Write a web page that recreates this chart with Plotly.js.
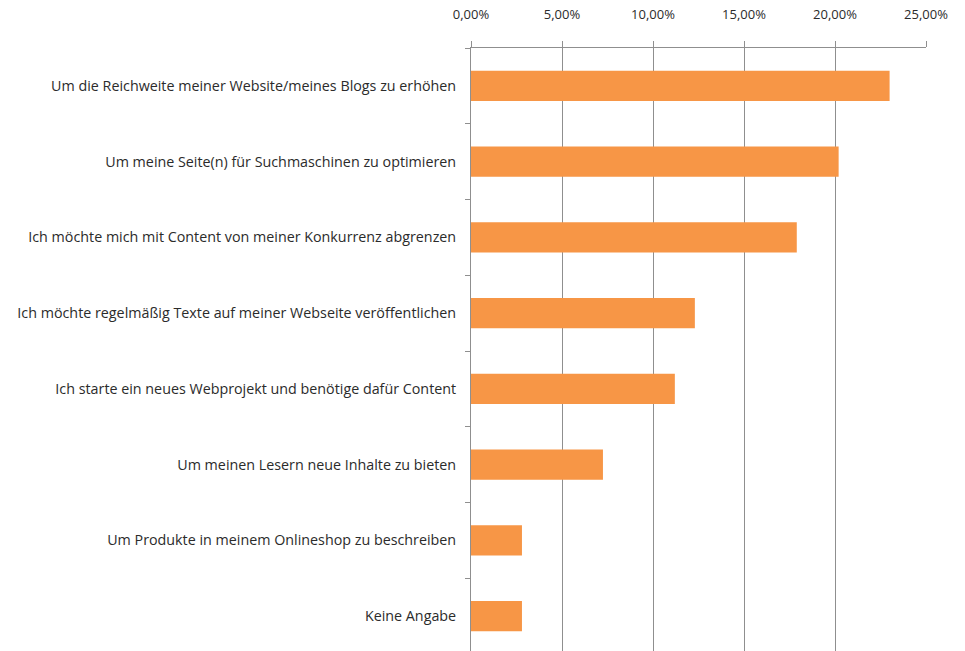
<!DOCTYPE html>
<html>
<head>
<meta charset="utf-8">
<script src="https://cdn.plot.ly/plotly-3.0.1.min.js"></script>
<style>
  html, body { margin: 0; padding: 0; background: #fff; overflow: hidden; }
  #chart { width: 965px; height: 654px; }
</style>
</head>
<body>
<div id="chart"></div>
<script>
// Reasons for ordering content (share of respondents)
const categories = [
  "Um die Reichweite meiner Website/meines Blogs zu erhöhen",
  "Um meine Seite(n) für Suchmaschinen zu optimieren",
  "Ich möchte mich mit Content von meiner Konkurrenz abgrenzen",
  "Ich möchte regelmäßig Texte auf meiner Webseite veröffentlichen",
  "Ich starte ein neues Webprojekt und benötige dafür Content",
  "Um meinen Lesern neue Inhalte zu bieten",
  "Um Produkte in meinem Onlineshop zu beschreiben",
  "Keine Angabe"
];
const shares = [0.230, 0.202, 0.179, 0.123, 0.112, 0.0725, 0.028, 0.028];
const tickValues = [0, 0.05, 0.10, 0.15, 0.20, 0.25];

const trace = {
  type: "bar",
  orientation: "h",
  x: shares,
  y: categories,
  marker: { color: "#F79646" },
  hoverinfo: "x+y"
};

const layout = {
  width: 965,
  height: 654,
  margin: { l: 471, r: 39, t: 48, b: 0 },
  paper_bgcolor: "#ffffff",
  plot_bgcolor: "#ffffff",
  separators: ",.",
  bargap: 0.6,
  showlegend: false,
  font: { family: "Open Sans, sans-serif", size: 12, color: "#2b2b2b" },
  xaxis: {
    side: "top",
    range: [0, 0.25],
    tickvals: tickValues,
    tickformat: ".2%",
    showgrid: true,
    gridcolor: "#8f8f8f",
    gridwidth: 1,
    zeroline: false,
    showline: true,
    linecolor: "#8f8f8f",
    linewidth: 1,
    ticks: "outside",
    ticklen: 6,
    tickcolor: "#8f8f8f",
    ticklabelstandoff: 17,
    tickfont: { family: "Open Sans, sans-serif", size: 13, color: "#2b2b2b" },
    fixedrange: true
  },
  yaxis: {
    type: "category",
    autorange: "reversed",
    showline: true,
    linecolor: "#8f8f8f",
    linewidth: 1,
    ticks: "outside",
    tickson: "boundaries",
    ticklen: 5,
    tickcolor: "#8f8f8f",
    showgrid: false,
    ticklabelstandoff: 11,
    tickfont: { family: "Open Sans, sans-serif", size: 14.3, color: "#2b2b2b" },
    fixedrange: true
  }
};

Plotly.newPlot("chart", [trace], layout, { displayModeBar: false, staticPlot: true });
</script>
</body>
</html>
